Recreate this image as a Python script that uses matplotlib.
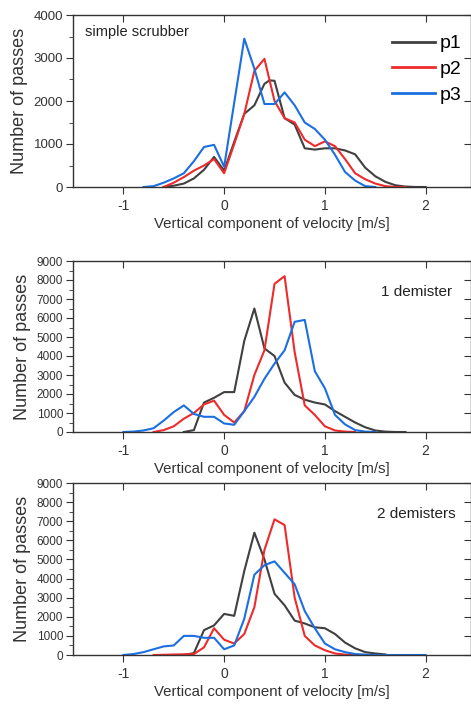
"""
plot.py

Distributions of the vertical velocity component of tracked particles for three
scrubber configurations (simple scrubber, 1 demister, 2 demisters).
"""

import matplotlib.pyplot as plt
import matplotlib.ticker as mtick

plt.rcParams["font.family"] = ["Liberation Sans", "DejaVu Sans"]

# --- simple scrubber ---------------------------------------------------------
x_s_p1 = [-0.6, -0.5, -0.4, -0.3, -0.2, -0.1, 0.0, 0.1, 0.2, 0.3, 0.4, 0.45, 0.5,
          0.6, 0.7, 0.8, 0.9, 1.0, 1.1, 1.2, 1.3, 1.4, 1.5, 1.6, 1.7, 1.8, 1.9, 2.0]
y_s_p1 = [0, 30, 80, 200, 400, 700, 380, 1050, 1700, 1900, 2400, 2480, 2470,
          1600, 1450, 900, 870, 900, 900, 850, 760, 450, 250, 120, 40, 10, 0, 0]
x_s_p2 = [-0.6, -0.5, -0.4, -0.3, -0.2, -0.1, 0.0, 0.1, 0.2, 0.3, 0.4, 0.5, 0.6,
          0.7, 0.8, 0.9, 1.0, 1.1, 1.2, 1.3, 1.4, 1.5, 1.6, 1.7, 1.8]
y_s_p2 = [0, 100, 230, 380, 500, 650, 320, 1000, 1700, 2700, 2980, 2000, 1600,
          1500, 1100, 950, 1060, 950, 650, 320, 180, 80, 20, 0, 0]
x_s_p3 = [-0.8, -0.7, -0.6, -0.5, -0.4, -0.3, -0.2, -0.1, 0.0, 0.2, 0.3, 0.4, 0.5,
          0.6, 0.7, 0.8, 0.9, 1.0, 1.1, 1.2, 1.3, 1.4, 1.5]
y_s_p3 = [0, 20, 100, 200, 320, 600, 930, 980, 470, 3450, 2750, 1930, 1930,
          2200, 1900, 1500, 1350, 1100, 750, 350, 150, 20, 0]

# --- 1 demister --------------------------------------------------------------
x_d1_p1 = [-0.4, -0.3, -0.2, -0.1, 0.0, 0.1, 0.2, 0.3, 0.4, 0.5, 0.6, 0.7, 0.8,
           0.9, 1.0, 1.1, 1.2, 1.3, 1.4, 1.5, 1.6, 1.7, 1.8]
y_d1_p1 = [0, 100, 1550, 1800, 2100, 2100, 4800, 6500, 4400, 4000, 2600, 1950,
           1700, 1550, 1450, 1100, 800, 500, 250, 80, 20, 0, 0]
x_d1_p2 = [-0.7, -0.6, -0.5, -0.4, -0.3, -0.2, -0.1, 0.0, 0.1, 0.2, 0.3, 0.4, 0.5,
           0.6, 0.7, 0.8, 0.9, 1.0, 1.1, 1.2, 1.3]
y_d1_p2 = [0, 100, 300, 700, 1000, 1450, 1650, 900, 500, 1100, 3000, 4300, 7800,
           8200, 4200, 1400, 900, 300, 80, 20, 0]
x_d1_p3 = [-1.0, -0.9, -0.8, -0.7, -0.6, -0.5, -0.4, -0.3, -0.2, -0.1, 0.0, 0.1,
           0.2, 0.3, 0.4, 0.5, 0.6, 0.7, 0.8, 0.9, 1.0, 1.1, 1.2, 1.3, 1.4, 1.5]
y_d1_p3 = [0, 20, 80, 200, 600, 1050, 1400, 950, 800, 800, 450, 380, 1100, 1850,
           2800, 3600, 4300, 5800, 5900, 3200, 2300, 900, 400, 100, 20, 0]

# --- 2 demisters -------------------------------------------------------------
x_d2_p1 = [-0.4, -0.3, -0.2, -0.1, 0.0, 0.1, 0.2, 0.3, 0.4, 0.5, 0.6, 0.7, 0.8,
           0.9, 1.0, 1.1, 1.2, 1.3, 1.4, 1.5, 1.6]
y_d2_p1 = [0, 100, 1300, 1550, 2150, 2050, 4400, 6400, 5000, 3200, 2600, 1800,
           1650, 1450, 1400, 1100, 650, 350, 150, 80, 30]
x_d2_p2 = [-0.7, -0.3, -0.2, -0.1, 0.0, 0.1, 0.2, 0.3, 0.4, 0.5, 0.6, 0.7, 0.8,
           0.9, 1.0, 1.1, 1.2, 1.3]
y_d2_p2 = [0, 50, 400, 1400, 800, 600, 1100, 2500, 5500, 7100, 6800, 3000, 1000,
           500, 250, 80, 20, 0]
x_d2_p3 = [-1.0, -0.9, -0.8, -0.7, -0.6, -0.5, -0.4, -0.3, -0.2, -0.1, 0.0, 0.1,
           0.2, 0.3, 0.4, 0.5, 0.6, 0.7, 0.8, 0.9, 1.0, 1.1, 1.2, 1.3, 1.4, 1.5,
           2.0]
y_d2_p3 = [0, 50, 150, 300, 450, 500, 1000, 1000, 900, 900, 300, 500, 1900,
           4200, 4700, 4900, 4300, 3700, 2300, 1400, 600, 300, 150, 50, 20, 0, 0]

series_names = ["p1", "p2", "p3"]
panel_titles = ["simple scrubber", "1 demister", "2 demisters"]
x_ticks = [-1, 0, 1, 2]
x_tick_labels = ["-1", "0", "1", "2"]

COLORS = ["#404040", "#ee2b2b", "#1c6fe0"]


def style_axis(ax, ymax, ystep, ytick_size):
    ax.set_xlim(-1.5, 2.45)
    ax.set_ylim(0, ymax)
    ax.set_xticks(x_ticks)
    ax.set_xticklabels(x_tick_labels)
    ax.yaxis.set_major_locator(mtick.MultipleLocator(ystep))
    ax.yaxis.set_minor_locator(mtick.MultipleLocator(ystep / 2))
    ax.tick_params(axis="x", which="major", direction="out", length=5,
                   labelsize=10, color="#333333", labelcolor="#333333", top=True)
    ax.tick_params(axis="y", which="major", direction="out", length=5,
                   labelsize=ytick_size, color="#333333", labelcolor="#333333",
                   right=True, pad=2)
    ax.tick_params(axis="y", which="minor", direction="out", length=3,
                   color="#333333")
    for spine in ax.spines.values():
        spine.set_color("#333333")
        spine.set_linewidth(1.0)
    # top/right ticks point inward (Origin style)
    for tick in ax.xaxis.get_major_ticks():
        tick.tick2line.set_marker(3)
    for tick in ax.yaxis.get_major_ticks():
        tick.tick2line.set_marker(0)
    ax.set_xlabel("Vertical component of velocity [m/s]", fontsize=10.8,
                  color="#333333", labelpad=3)
    ax.set_ylabel("Number of passes", fontsize=13, color="#333333",
                  labelpad=4)


def plot_panel(ax, xs, ys):
    for x, y, name, color in zip(xs, ys, series_names, COLORS):
        ax.plot(x, y, color=color, lw=1.5, label=name)


if __name__ == "__main__":

    fig = plt.figure(figsize=(4.71, 7.05), dpi=100)
    fig.patch.set_facecolor("white")

    left = 73 / 471
    width = 1.0 - left
    ax1 = fig.add_axes([left, 1 - 187 / 705, width, 172 / 705])
    ax2 = fig.add_axes([left, 1 - 432 / 705, width, 171 / 705])
    ax3 = fig.add_axes([left, 1 - 655 / 705, width, 172 / 705])

    plot_panel(ax1, [x_s_p1, x_s_p2, x_s_p3], [y_s_p1, y_s_p2, y_s_p3])
    plot_panel(ax2, [x_d1_p1, x_d1_p2, x_d1_p3], [y_d1_p1, y_d1_p2, y_d1_p3])
    plot_panel(ax3, [x_d2_p1, x_d2_p2, x_d2_p3], [y_d2_p1, y_d2_p2, y_d2_p3])

    style_axis(ax1, 4000, 1000, 9.5)
    style_axis(ax2, 9000, 1000, 8.5)
    style_axis(ax3, 9000, 1000, 8.5)

    ax1.text(0.03, 0.9, panel_titles[0], transform=ax1.transAxes,
             fontsize=10.5, color="#222222", va="center")
    ax2.text(0.775, 0.82, panel_titles[1], transform=ax2.transAxes,
             fontsize=11, color="#222222", va="center")
    ax3.text(0.765, 0.82, panel_titles[2], transform=ax3.transAxes,
             fontsize=11, color="#222222", va="center")

    leg = ax1.legend(loc="upper right", bbox_to_anchor=(0.995, 0.93),
                     frameon=False, fontsize=14, handlelength=2.2,
                     handletextpad=0.25, labelspacing=0.42, borderaxespad=0)
    for line in leg.get_lines():
        line.set_linewidth(2.0)

    plt.savefig("out.png", dpi=100)
